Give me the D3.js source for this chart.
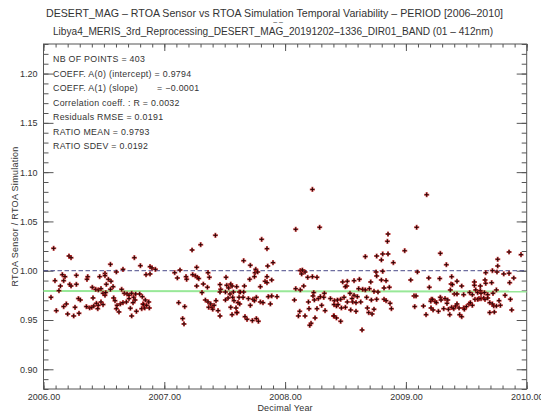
<!DOCTYPE html>
<html>
<head>
<meta charset="utf-8">
<script src="https://cdn.jsdelivr.net/npm/d3@7"></script>
<style>
  body { margin: 0; background: #fff; }
  text { font-family: "Liberation Sans", Arial, sans-serif; fill: #333; }
</style>
</head>
<body>
<script>
// decimal year / ratio pairs
let years = [
  2006.084, 2006.211, 2006.228, 2006.554, 2006.752, 2006.802, 2006.658, 2006.603, 2006.509, 2006.509,
  2006.095, 2006.156, 2006.178, 2006.167, 2006.272, 2006.366, 2006.360, 2006.465, 2006.217, 2006.228,
  2006.272, 2006.140, 2006.128, 2006.404, 2006.432, 2006.454, 2006.476, 2006.520, 2006.537, 2006.559,
  2006.576, 2006.493, 2006.509, 2006.647, 2006.669, 2006.692, 2006.708, 2006.730, 2006.747, 2006.763,
  2006.796, 2006.818, 2006.062, 2006.106, 2006.189, 2006.167, 2006.200, 2006.250, 2006.261, 2006.289,
  2006.305, 2006.294, 2006.355, 2006.382, 2006.399, 2006.416, 2006.410, 2006.438, 2006.454, 2006.476,
  2006.581, 2006.592, 2006.609, 2006.603, 2006.636, 2006.625, 2006.658, 2006.730, 2006.719, 2006.769,
  2006.813, 2006.758, 2006.708, 2006.554, 2006.515, 2006.824, 2006.741, 2006.686, 2006.449, 2006.493,
  2006.882, 2006.898, 2006.926, 2006.849, 2006.882, 2006.843, 2006.871, 2006.827, 2006.838, 2006.876,
  2006.854,
  2007.086, 2007.130, 2007.108, 2007.180, 2007.185, 2007.235, 2007.257, 2007.274, 2007.285, 2007.268,
  2007.230, 2007.301, 2007.423, 2007.362, 2007.373, 2007.323, 2007.312, 2007.357, 2007.268, 2007.119,
  2007.169, 2007.152, 2007.163, 2007.340, 2007.362, 2007.384, 2007.368, 2007.395, 2007.412, 2007.428,
  2007.445, 2007.461, 2007.401, 2007.461, 2007.467, 2007.461, 2007.506, 2007.511, 2007.517, 2007.533,
  2007.550, 2007.561, 2007.572, 2007.544, 2007.528, 2007.506, 2007.566, 2007.577, 2007.550, 2007.594,
  2007.599, 2007.561, 2007.610, 2007.621, 2007.599,
  2007.657, 2007.712, 2007.806, 2007.850, 2007.900, 2007.856, 2007.757, 2007.751, 2007.773, 2007.707,
  2007.746, 2007.850, 2007.834, 2007.850, 2007.889, 2007.663, 2007.795, 2007.630, 2007.657, 2007.619,
  2007.652, 2007.696, 2007.734, 2007.762, 2007.746, 2007.861, 2007.889, 2007.933, 2007.795, 2007.817,
  2007.878, 2007.712, 2007.624, 2007.602, 2007.668, 2007.685, 2007.729, 2007.762, 2007.779,
  2008.088, 2008.226, 2008.286, 2008.126, 2008.137, 2008.165, 2008.143, 2008.187, 2008.226, 2008.264,
  2008.088, 2008.126, 2008.154, 2008.077, 2008.121, 2008.110, 2008.165, 2008.198, 2008.193, 2008.215,
  2008.204, 2008.248, 2008.237, 2008.231, 2008.275, 2008.292, 2008.325, 2008.320, 2008.242, 2008.264,
  2008.303, 2008.331, 2008.375, 2008.408, 2008.425, 2008.402, 2008.425,
  2009.172, 2009.089, 2008.852, 2008.847, 2008.990, 2008.664, 2008.758, 2008.808, 2008.852, 2008.797,
  2008.896, 2008.753, 2008.808, 2008.758, 2009.095, 2009.189, 2009.040, 2009.194, 2008.477, 2008.515,
  2008.510, 2008.499, 2008.571, 2008.615, 2008.709, 2008.797, 2008.836, 2008.609, 2008.642, 2008.664,
  2008.698, 2008.736, 2008.769, 2008.819, 2008.863, 2008.537, 2008.571, 2008.598, 2008.554, 2008.488,
  2008.460, 2008.433, 2008.405, 2008.438, 2008.515, 2008.560, 2008.587, 2008.626, 2008.675, 2008.714,
  2008.758, 2008.819, 2008.836, 2008.466, 2008.499, 2008.543, 2008.587, 2008.681, 2008.692, 2008.720,
  2008.736, 2008.880, 2008.869, 2008.405, 2008.460, 2008.637, 2009.067, 2009.084, 2009.073, 2009.145,
  2009.167, 2009.211, 2009.206,
  2009.285, 2009.335, 2009.280, 2009.379, 2009.423, 2009.462, 2009.374, 2009.385, 2009.567, 2009.567,
  2009.616, 2009.655, 2009.661, 2009.710, 2009.749, 2009.721, 2009.661, 2009.716, 2009.754, 2009.810,
  2009.854, 2009.893, 2009.859, 2009.760, 2009.760, 2009.854, 2009.953, 2009.368, 2009.401, 2009.423,
  2009.478, 2009.528, 2009.550, 2009.578, 2009.594, 2009.616, 2009.622, 2009.650, 2009.677, 2009.241,
  2009.252, 2009.219, 2009.208, 2009.225, 2009.269, 2009.285, 2009.291, 2009.324, 2009.346, 2009.340,
  2009.313, 2009.352, 2009.379, 2009.396, 2009.412, 2009.423, 2009.440, 2009.478, 2009.484, 2009.501,
  2009.523, 2009.534, 2009.550, 2009.572, 2009.594, 2009.605, 2009.622, 2009.644, 2009.655, 2009.677,
  2009.694, 2009.716, 2009.727, 2009.749, 2009.771, 2009.782, 2009.821, 2009.865, 2009.876, 2009.694,
  2009.732, 2009.363, 2009.445, 2009.462
];
let ratios = [
  1.0227, 1.0149, 1.0132, 1.0065, 1.0132, 1.0051, 1.0014, 0.9987, 0.9973, 0.9950,
  0.9899, 0.9960, 0.9940, 0.9899, 0.9953, 0.9940, 0.9913, 0.9940, 0.9862, 0.9845,
  0.9862, 0.9845, 0.9798, 0.9832, 0.9811, 0.9805, 0.9818, 0.9862, 0.9913, 0.9893,
  0.9838, 0.9771, 0.9751, 0.9811, 0.9771, 0.9764, 0.9751, 0.9771, 0.9730, 0.9764,
  0.9764, 0.9737, 0.9730, 0.9595, 0.9663, 0.9636, 0.9561, 0.9541, 0.9629, 0.9717,
  0.9703, 0.9568, 0.9636, 0.9622, 0.9629, 0.9642, 0.9724, 0.9669, 0.9649, 0.9683,
  0.9724, 0.9696, 0.9649, 0.9615, 0.9663, 0.9582, 0.9676, 0.9541, 0.9619, 0.9588,
  0.9615, 0.9703, 0.9717, 0.9811, 0.9778, 0.9663, 0.9676, 0.9683, 0.9615, 0.9656,
  1.0041, 1.0028, 1.0014, 0.9960, 0.9967, 0.9703, 0.9683, 0.9656, 0.9622, 0.9622,
  0.9649,
  0.9980, 1.0007, 0.9926, 0.9940, 0.9913, 0.9960, 0.9947, 0.9933, 0.9920, 1.0034,
  1.0210, 1.0264, 1.0359, 0.9980, 0.9933, 0.9865, 0.9778, 0.9832, 0.9845, 0.9676,
  0.9636, 0.9514, 0.9460, 0.9703, 0.9683, 0.9663, 0.9629, 0.9629, 0.9649, 0.9696,
  0.9595, 0.9541, 0.9609, 0.9859, 0.9811, 0.9784, 0.9784, 0.9933, 0.9852, 0.9825,
  0.9865, 0.9845, 0.9784, 0.9764, 0.9723, 0.9703, 0.9730, 0.9696, 0.9629, 0.9622,
  0.9575, 0.9554, 0.9676, 0.9784, 0.9838,
  1.0102, 1.0055, 1.0318, 1.0224, 1.0082, 1.0048, 1.0014, 0.9980, 0.9987, 0.9913,
  0.9940, 0.9940, 0.9892, 0.9879, 0.9906, 0.9845, 0.9838, 0.9784, 0.9784, 0.9730,
  0.9730, 0.9717, 0.9710, 0.9730, 0.9696, 0.9737, 0.9744, 0.9737, 0.9683, 0.9676,
  0.9663, 0.9649, 0.9663, 0.9575, 0.9534, 0.9507, 0.9494, 0.9514, 0.9487,
  1.0420, 1.0825, 1.0440, 1.0001, 0.9967, 0.9987, 1.0007, 0.9933, 0.9940, 0.9933,
  0.9818, 0.9805, 0.9845, 0.9703, 0.9588, 0.9541, 0.9541, 0.9615, 0.9683, 0.9467,
  0.9446, 0.9521, 0.9778, 0.9744, 0.9717, 0.9737, 0.9771, 0.9730, 0.9703, 0.9615,
  0.9649, 0.9595, 0.9717, 0.9696, 0.9642, 0.9541, 0.9521,
  1.0771, 1.0440, 1.0372, 1.0298, 1.0203, 1.0143, 1.0149, 1.0170, 1.0170, 1.0109,
  1.0082, 0.9987, 0.9994, 0.9947, 0.9987, 0.9926, 0.9906, 0.9832, 0.9886, 0.9893,
  0.9845, 0.9838, 0.9899, 0.9913, 0.9886, 0.9906, 0.9899, 0.9818, 0.9811, 0.9805,
  0.9818, 0.9791, 0.9784, 0.9825, 0.9832, 0.9771, 0.9751, 0.9737, 0.9717, 0.9730,
  0.9710, 0.9703, 0.9656, 0.9656, 0.9683, 0.9683, 0.9676, 0.9683, 0.9730, 0.9703,
  0.9710, 0.9710, 0.9696, 0.9622, 0.9629, 0.9602, 0.9588, 0.9622, 0.9575, 0.9561,
  0.9609, 0.9615, 0.9669, 0.9541, 0.9487, 0.9399, 0.9744, 0.9744, 0.9636, 0.9642,
  0.9554, 0.9710, 0.9690,
  1.0176, 1.0061, 0.9920, 0.9940, 0.9893, 0.9845, 0.9865, 0.9859, 0.9886, 0.9852,
  0.9845, 0.9906, 0.9872, 0.9879, 0.9805, 0.9771, 0.9980, 1.0001, 0.9987, 0.9967,
  0.9974, 0.9926, 0.9879, 1.0116, 1.0048, 1.0190, 1.0163, 0.9805, 0.9764, 0.9764,
  0.9757, 0.9778, 0.9757, 0.9805, 0.9778, 0.9798, 0.9771, 0.9778, 0.9757, 0.9690,
  0.9676, 0.9710, 0.9622, 0.9602, 0.9588, 0.9730, 0.9703, 0.9717, 0.9703, 0.9669,
  0.9615, 0.9609, 0.9629, 0.9615, 0.9642, 0.9663, 0.9622, 0.9622, 0.9609, 0.9636,
  0.9663, 0.9676, 0.9649, 0.9710, 0.9710, 0.9717, 0.9717, 0.9723, 0.9710, 0.9723,
  0.9676, 0.9663, 0.9642, 0.9642, 0.9696, 0.9649, 0.9750, 0.9710, 0.9602, 0.9575,
  0.9581, 0.9554, 0.9554, 0.9534
];

let titleLines = [
  "DESERT_MAG \u2013 RTOA Sensor vs RTOA Simulation Temporal Variability \u2013 PERIOD [2006\u20132010]",
  "Libya4_MERIS_3rd_Reprocessing_DESERT_MAG_20191202\u20131336_DIR01_BAND (01 \u2013 412nm)"
];
let statLines = [
  "NB OF POINTS = 403",
  "COEFF. A(0) (intercept) = 0.9794",
  "COEFF. A(1) (slope)       = \u22120.0001",
  "Correlation coeff. : R = 0.0032",
  "Residuals RMSE = 0.0191",
  "RATIO MEAN = 0.9793",
  "RATIO SDEV = 0.0192"
];
let xMajor = [2006, 2007, 2008, 2009, 2010];
let yMajor = [0.90, 0.95, 1.00, 1.05, 1.10, 1.15, 1.20];
let fitA0 = 0.9794, fitA1 = -0.0001;
let refLevel = 1.0;

let width = 541, height = 413;
let m = { left: 43.5, right: 526.7, top: 44, bottom: 389 };

let svg = d3.select("body").append("svg")
  .attr("width", width)
  .attr("height", height);
svg.append("rect").attr("width", width).attr("height", height).attr("fill", "#fff");

let x = d3.scaleLinear().domain([2006, 2010]).range([m.left, m.right]);
let y = d3.scaleLinear().domain([0.88, 1.23]).range([m.bottom, m.top]);

let xMinor = d3.range(2006, 2010.001, 0.1).map((d) => +d.toFixed(1));
let yMinor = d3.range(0.88, 1.2301, 0.01).map((d) => +d.toFixed(2));

let axisColor = "#555";
let styleAxis = (g) => {
  g.selectAll(".domain").remove();
  g.selectAll("line").attr("stroke", axisColor);
  g.selectAll("text").style("font-size", "9px").attr("fill", "#444")
    .style("font-family", "'Liberation Sans', Arial, sans-serif");
};

// minor ticks on all four sides
svg.append("g").attr("transform", `translate(${m.left},0)`)
  .call(d3.axisLeft(y).tickValues(yMinor).tickSize(-5).tickFormat("")).call(styleAxis);
svg.append("g").attr("transform", `translate(${m.right},0)`)
  .call(d3.axisRight(y).tickValues(yMinor).tickSize(-5).tickFormat("")).call(styleAxis);
svg.append("g").attr("transform", `translate(0,${m.bottom})`)
  .call(d3.axisBottom(x).tickValues(xMinor).tickSize(-3.5).tickFormat("")).call(styleAxis);
svg.append("g").attr("transform", `translate(0,${m.top})`)
  .call(d3.axisTop(x).tickValues(xMinor).tickSize(-3.5).tickFormat("")).call(styleAxis);

// major ticks + labels
svg.append("g").attr("transform", `translate(${m.left},0)`)
  .call(d3.axisLeft(y).tickValues(yMajor).tickSize(-10).tickPadding(6).tickFormat(d3.format(".2f")))
  .call(styleAxis);
svg.append("g").attr("transform", `translate(${m.right},0)`)
  .call(d3.axisRight(y).tickValues(yMajor).tickSize(-10).tickFormat("")).call(styleAxis);
svg.append("g").attr("transform", `translate(0,${m.bottom})`)
  .call(d3.axisBottom(x).tickValues(xMajor).tickSize(-7).tickPadding(5).tickFormat(d3.format(".2f")))
  .call(styleAxis);
svg.append("g").attr("transform", `translate(0,${m.top})`)
  .call(d3.axisTop(x).tickValues(xMajor).tickSize(-7).tickFormat("")).call(styleAxis);

// frame
svg.append("rect")
  .attr("x", m.left).attr("y", m.top)
  .attr("width", m.right - m.left).attr("height", m.bottom - m.top)
  .attr("fill", "none").attr("stroke", axisColor).attr("stroke-width", 1);

// fit line and reference level
svg.append("line")
  .attr("x1", x(2006)).attr("x2", x(2010))
  .attr("y1", y(fitA0)).attr("y2", y(fitA0 + fitA1 * 4))
  .attr("stroke", "#98e898").attr("stroke-width", 2);
svg.append("line")
  .attr("x1", x(2006)).attr("x2", x(2010))
  .attr("y1", y(refLevel)).attr("y2", y(refLevel))
  .attr("stroke", "#4a4a88").attr("stroke-width", 1)
  .attr("stroke-dasharray", "4.5,2.5");

// points
let pts = years.map((d, i) => ({ t: d, r: ratios[i] }));
let plus = (s) => `M${-s},0H${s}M0,${-s}V${s}`;
let mark = svg.append("g").selectAll("g").data(pts).join("g")
  .attr("transform", (d) => `translate(${x(d.t)},${y(d.r)})`);
mark.append("path").attr("d", plus(2.6))
  .attr("stroke", "#c82020").attr("stroke-width", 2).attr("stroke-opacity", 0.75);
mark.append("path").attr("d", plus(2))
  .attr("stroke", "#2a0505").attr("stroke-width", 1);

// titles
svg.append("text").attr("x", 274.5).attr("y", 17)
  .attr("text-anchor", "middle").style("font-size", "10.5px")
  .attr("textLength", 457).attr("lengthAdjust", "spacingAndGlyphs")
  .text(titleLines[0]);
svg.append("text").attr("x", 278).attr("y", 23.5)
  .attr("text-anchor", "middle").style("font-size", "7px")
  .text("\u2013 \u2013");
svg.append("text").attr("x", 273).attr("y", 35)
  .attr("text-anchor", "middle").style("font-size", "10.5px")
  .attr("textLength", 440).attr("lengthAdjust", "spacingAndGlyphs")
  .text(titleLines[1]);

// statistics block
svg.append("g").selectAll("text").data(statLines).join("text")
  .attr("x", 53)
  .attr("y", (d, i) => 62 + i * 14.5)
  .style("font-size", "8.8px")
  .style("letter-spacing", "0.3px")
  .style("white-space", "pre")
  .text((d) => d);

// axis titles
svg.append("text").attr("x", (m.left + m.right) / 2).attr("y", 411)
  .attr("text-anchor", "middle").style("font-size", "9px")
  .style("letter-spacing", "0.2px")
  .text("Decimal Year");
svg.append("text")
  .attr("transform", `translate(18,${(m.top + m.bottom) / 2}) rotate(-90)`)
  .attr("text-anchor", "middle").style("font-size", "9px")
  .style("letter-spacing", "0.3px")
  .style("white-space", "pre")
  .text("RTOA Sensor / RTOA Simulation");
</script>
</body>
</html>
